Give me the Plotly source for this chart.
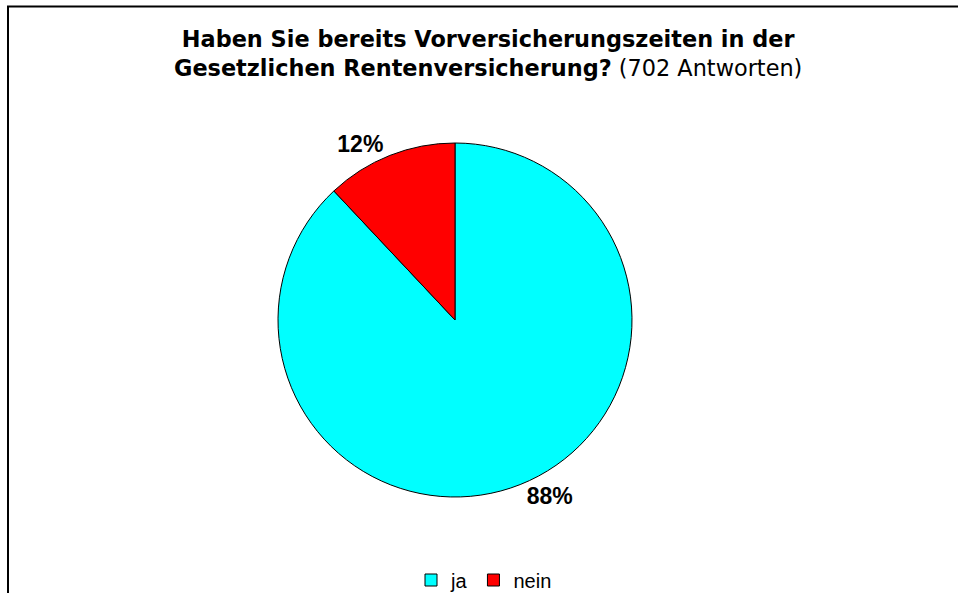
import plotly.graph_objects as go

labels = ["ja", "nein"]
values = [88, 12]
colors = ["#00FFFF", "#FF0000"]

W, H = 958, 593

cx, cy, r = 455, 320, 177

fig = go.Figure(go.Pie(
    labels=labels,
    values=values,
    sort=False,
    direction="clockwise",
    rotation=0,
    marker=dict(colors=colors, line=dict(color="black", width=1)),
    textposition="outside",
    texttemplate="%{percent:.0%}",
    outsidetextfont=dict(family="Liberation Sans, Arial", size=23, color="black", weight="bold"),
    domain=dict(x=[(cx - r) / W, (cx + r) / W], y=[1 - (cy + r) / H, 1 - (cy - r) / H]),
    hoverinfo="label+percent",
))

fig.update_layout(
    width=W, height=H,
    margin=dict(l=0, r=0, t=0, b=0, autoexpand=False),
    paper_bgcolor="white",
    plot_bgcolor="white",
    font=dict(family="Liberation Sans, Arial", color="black"),
    showlegend=True,
    legend=dict(
        orientation="h",
        x=484 / W, xanchor="center",
        y=1 - 580 / H, yanchor="middle",
        font=dict(size=20, family="Liberation Sans, Arial", color="black"),
        itemwidth=30,
        traceorder="normal",
    ),
    annotations=[dict(
        text="<b>Haben Sie bereits Vorversicherungszeiten in der</b><br><b>Gesetzlichen Rentenversicherung?</b> (702 Antworten)",
        x=488 / W, y=1 - 54 / H, xref="paper", yref="paper",
        xanchor="center", yanchor="middle",
        showarrow=False, align="center",
        font=dict(size=22.4, family="DejaVu Sans", color="black"),
    )],
    shapes=[dict(
        type="rect", xref="paper", yref="paper",
        x0=8 / W, x1=1.05, y0=-0.05, y1=1 - 6.5 / H,
        line=dict(color="black", width=2), fillcolor="rgba(0,0,0,0)",
    )],
)

fig.write_html(
    "out.html",
    config={"displayModeBar": False},
    post_script="document.body.style.margin='0px';document.body.style.overflow='hidden';",
)
